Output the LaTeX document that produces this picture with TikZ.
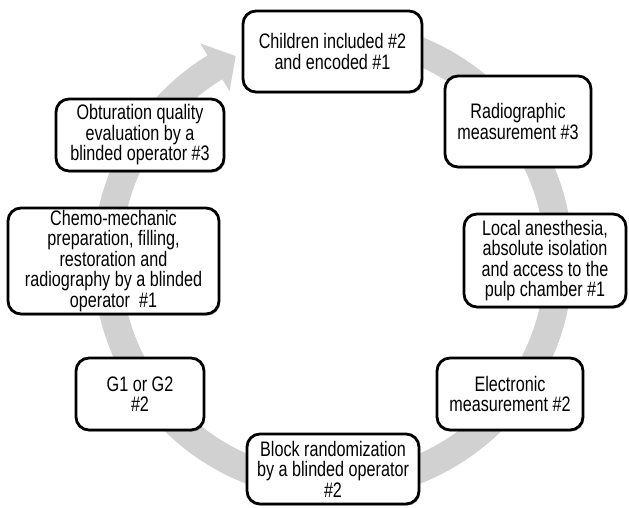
\documentclass[tikz,border=0pt]{standalone}
\usepackage{fontspec}
\setmainfont{Liberation Sans}
\newfontfamily\boxfont[FakeStretch=0.77]{Liberation Sans}
\newcommand\myboxtext{\boxfont\fontsize{21}{20.5}\selectfont\lineskiplimit=-30pt\relax}
\usetikzlibrary{shadows}
\begin{document}
\begin{tikzpicture}[x=1pt,y=1pt,
  stepbox/.style={draw=black, line width=2.8pt, fill=white, rounded corners=13pt,
    align=center, inner sep=2pt,
    font=\myboxtext,
    drop shadow={shadow xshift=1.2pt, shadow yshift=-1.6pt, fill=black, opacity=0.3}},
  ring/.style={fill=black!18, draw=none}]
\useasboundingbox (0,0) rectangle (629,507);
% cycle arrow
\begin{scope}[shift={(333,247)}]
\fill[ring] (85:240) arc[start angle=85, end angle=-238.5, radius=240]
  -- (-238.5:254) -- (-244.5:226) -- (-238.5:198) -- (-238.5:212)
  arc[start angle=-238.5, end angle=85, radius=212] -- cycle;
\end{scope}
% boxes
\node[stepbox, minimum width=179pt, minimum height=81pt] (b1) at (332.5,455.5) {Children included \#2\\and encoded \#1};
\node[stepbox, minimum width=146pt, minimum height=91pt] (b2) at (518,385.5) {Radiographic\\measurement \#3};
\node[stepbox, minimum width=162pt, minimum height=93pt] (b3) at (545,246.5) {Local anesthesia,\\absolute isolation\\and access to the\\pulp chamber \#1};
\node[stepbox, minimum width=146pt, minimum height=72pt] (b4) at (510,113) {Electronic\\measurement \#2};
\node[stepbox, minimum width=172pt, minimum height=70pt] (b5) at (333,38) {Block randomization\\by a blinded operator\\\#2};
\node[stepbox, minimum width=128pt, minimum height=72pt] (b6) at (140,113) {G1 or G2\\\#2};
\node[stepbox, minimum width=211pt, minimum height=106pt] (b7) at (113.5,246) {Chemo-mechanic\\preparation, filling,\\restoration and\\radiography by a blinded\\operator\ \ \#1};
\node[stepbox, minimum width=168pt, minimum height=72pt] (b8) at (140,372) {Obturation quality\\evaluation by a\\blinded operator \#3};
\end{tikzpicture}
\end{document}
